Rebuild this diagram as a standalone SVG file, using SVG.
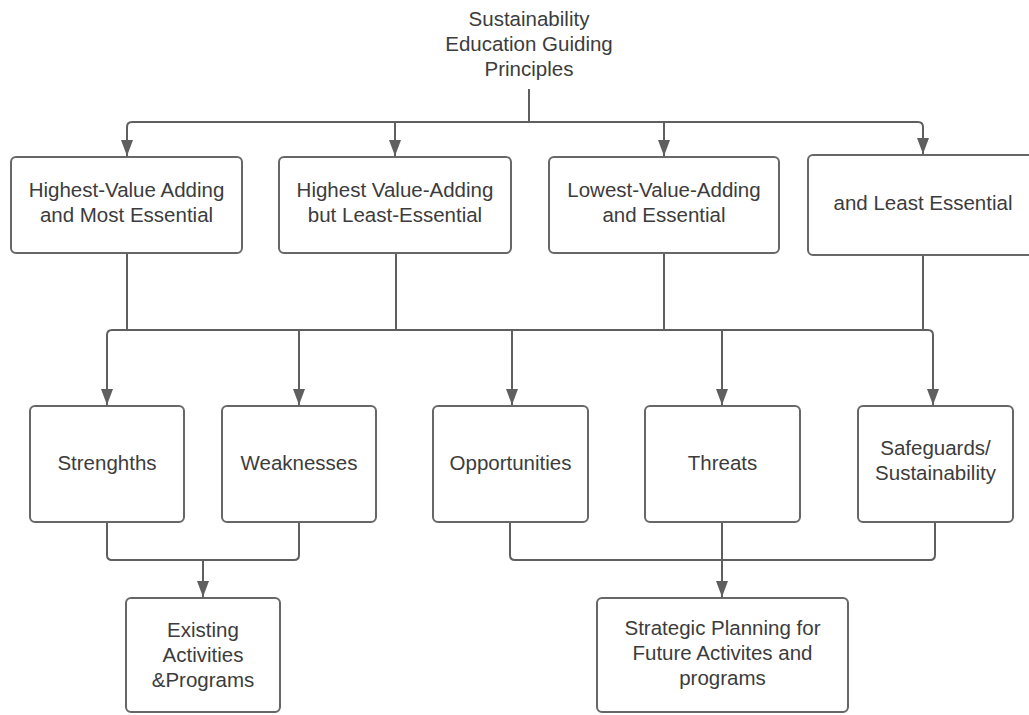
<svg xmlns="http://www.w3.org/2000/svg" width="1029" height="715" viewBox="0 0 1029 715">
<style>
.box{fill:#ffffff;stroke:#676767;stroke-width:2}
.t{font-family:"Liberation Sans",Arial,sans-serif;font-size:20.5px;fill:#3c3c3c;text-anchor:middle}
.c{fill:none;stroke:#5f5f5f;stroke-width:2}
.a{marker-end:url(#arr)}
</style>
<defs>
<marker id="arr" viewBox="0 0 16 12" refX="16" refY="6" markerWidth="16" markerHeight="12" markerUnits="userSpaceOnUse" orient="auto">
<path d="M0 0 L16 6 L0 12 Z" fill="#5f5f5f"/>
</marker>
</defs>
<rect width="1029" height="715" fill="#ffffff"/>
<g id="connectors">
<path class="c" d="M529 89 V122"/>
<path class="c a" d="M529 122 H132 Q127 122 127 127 V156"/>
<path class="c a" d="M529 122 H918 Q923 122 923 127 V154"/>
<path class="c a" d="M395 122 V156"/>
<path class="c a" d="M664 122 V156"/>
<path class="c" d="M127 253 V330"/>
<path class="c" d="M396 253 V330"/>
<path class="c" d="M664 253 V330"/>
<path class="c" d="M923 255 V330"/>
<path class="c a" d="M520 330 H112 Q107 330 107 335 V405"/>
<path class="c a" d="M520 330 H928 Q933 330 933 335 V405"/>
<path class="c a" d="M299 330 V405"/>
<path class="c a" d="M512 330 V405"/>
<path class="c a" d="M722 330 V405"/>
<path class="c" d="M107 522 V555 Q107 560 112 560 H294 Q299 560 299 555 V522"/>
<path class="c a" d="M203 560 V597"/>
<path class="c" d="M510 522 V555 Q510 560 515 560 H930 Q935 560 935 555 V522"/>
<path class="c a" d="M722 522 V597"/>
</g>
<g id="title">
<text class="t" x="529" y="26">Sustainability</text>
<text class="t" x="529" y="51">Education Guiding</text>
<text class="t" x="529" y="76">Principles</text>
</g>
<g id="n1">
<rect class="box" x="11" y="157" width="231" height="96" rx="5"/>
<text class="t" x="126.5" y="197">Highest-Value Adding</text>
<text class="t" x="126.5" y="222">and Most Essential</text>
</g>
<g id="n2">
<rect class="box" x="279" y="157" width="232" height="96" rx="5"/>
<text class="t" x="395" y="197">Highest Value-Adding</text>
<text class="t" x="395" y="222">but Least-Essential</text>
</g>
<g id="n3">
<rect class="box" x="549" y="157" width="230" height="96" rx="5"/>
<text class="t" x="664" y="197">Lowest-Value-Adding</text>
<text class="t" x="664" y="222">and Essential</text>
</g>
<g id="n4">
<rect class="box" x="808" y="155" width="230" height="100" rx="5"/>
<text class="t" x="923" y="210">and Least Essential</text>
</g>
<g id="n5">
<rect class="box" x="30" y="406" width="154" height="116" rx="5"/>
<text class="t" x="107" y="470">Strenghths</text>
</g>
<g id="n6">
<rect class="box" x="222" y="406" width="154" height="116" rx="5"/>
<text class="t" x="299" y="470">Weaknesses</text>
</g>
<g id="n7">
<rect class="box" x="433" y="406" width="155" height="116" rx="5"/>
<text class="t" x="510.5" y="470">Opportunities</text>
</g>
<g id="n8">
<rect class="box" x="645" y="406" width="155" height="116" rx="5"/>
<text class="t" x="722.5" y="470">Threats</text>
</g>
<g id="n9">
<rect class="box" x="858" y="406" width="155" height="116" rx="5"/>
<text class="t" x="935.5" y="455">Safeguards/</text>
<text class="t" x="935.5" y="480">Sustainability</text>
</g>
<g id="n10">
<rect class="box" x="126" y="598" width="154" height="114" rx="5"/>
<text class="t" x="203" y="637">Existing</text>
<text class="t" x="203" y="662">Activities</text>
<text class="t" x="203" y="687">&amp;Programs</text>
</g>
<g id="n11">
<rect class="box" x="597" y="598" width="251" height="114" rx="5"/>
<text class="t" x="722.5" y="635">Strategic Planning for</text>
<text class="t" x="722.5" y="660">Future Activites and</text>
<text class="t" x="722.5" y="685">programs</text>
</g>
</svg>
